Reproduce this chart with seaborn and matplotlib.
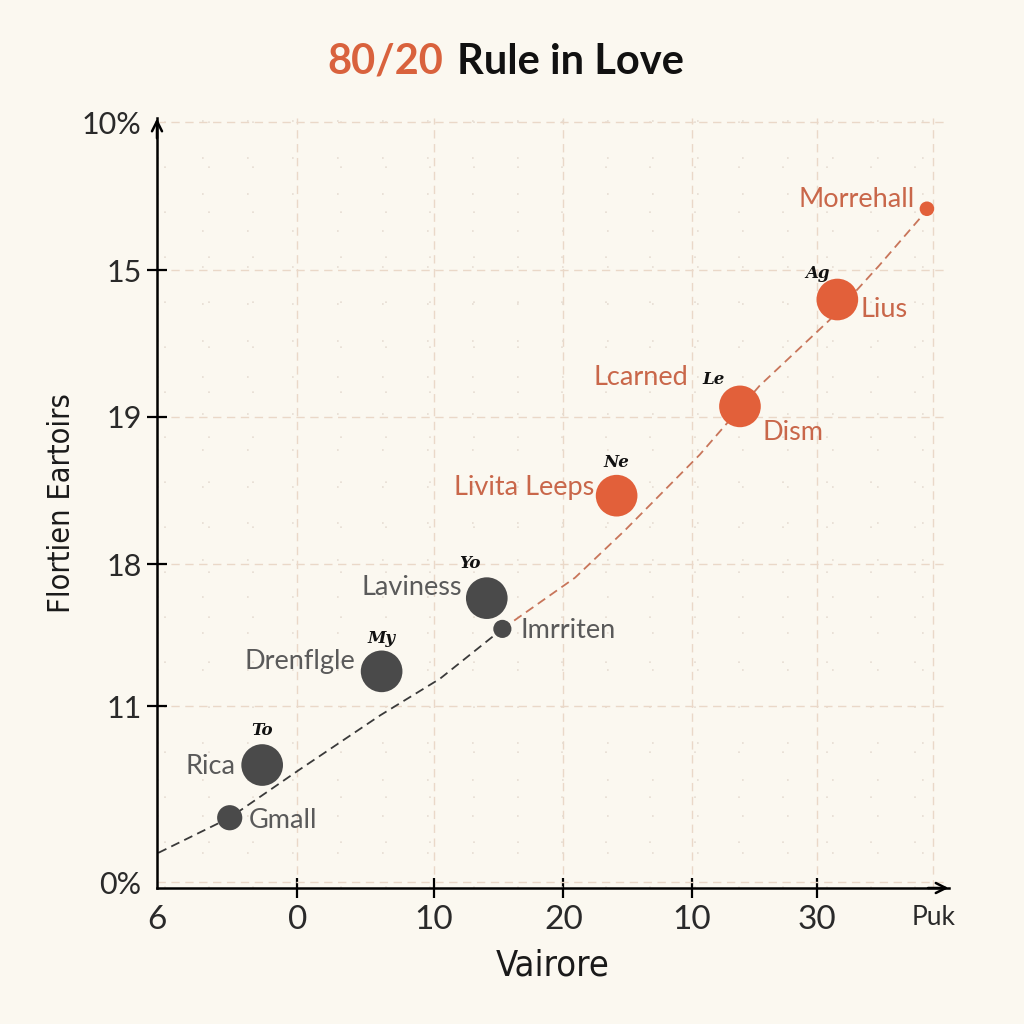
import numpy as np
import pandas as pd
import matplotlib
matplotlib.use("Agg")
import matplotlib.pyplot as plt
import seaborn as sns
from matplotlib.ticker import FixedLocator, MultipleLocator

# ---------------- data ----------------
names = ["Gmall", "Rica", "Drenflgle", "Laviness", "Imrriten",
         "Livita Leeps", "Dism", "Lius", "Morrehall"]
x_vals = [-5.2, -2.7, 6.5, 14.6, 15.8, 24.6, 34.1, 41.6, 48.5]
y_vals = [0.24, 0.60, 1.24, 1.74, 1.53, 2.44, 3.05, 3.78, 4.40]
weights = [3.3, 8, 8, 8, 2, 8, 8, 8, 1.5]
groups = ["Rest", "Rest", "Rest", "Rest", "Rest", "Top", "Top", "Top", "Top"]

trend_x_gray = [-10.7, -5.2, 0.2, 6.4, 11.0, 15.8]
trend_y_gray = [0.0, 0.24, 0.57, 0.94, 1.19, 1.53]
trend_x_orange = [15.8, 21.4, 25.2, 31.0, 35.6, 41.0, 44.8, 48.5]
trend_y_orange = [1.53, 1.88, 2.20, 2.72, 3.19, 3.64, 4.01, 4.39]

x_tick_pos = [-10.8, 0, 10.5, 20.5, 30.4, 40, 49.0]
x_tick_labels = ["6", "0", "10", "20", "10", "30", "Puk"]
y_tick_pos = [-0.2, 1.0, 1.97, 2.98, 3.98, 4.99]
y_tick_labels = ["0%", "11", "18", "19", "15", "10%"]

extra_labels = ["Lcarned"]          # second label attached to "Dism"
marks = ["To", "My", "Yo", "Ne", "Le", "Ag"]
mark_points = ["Rica", "Drenflgle", "Laviness", "Livita Leeps", "Dism", "Lius"]

title_left = "80/20"
title_right = "Rule in Love"
x_label = "Vairore"
y_label = "Flortien Eartoirs"

# ---------------- style ----------------
BG = "#fbf8f0"
GRAY = "#4a4a4a"
ORANGE = "#e2603a"
GRAY_TXT = "#5a5a5a"
ORANGE_TXT = "#c9674a"
GRID = "#ead8c8"

sns.set_theme(style="white")
plt.rcParams["font.family"] = ["Lato", "DejaVu Sans"]

fig = plt.figure(figsize=(10.24, 10.24), dpi=100, facecolor=BG)
ax = fig.add_axes([157 / 1024, 1 - 888 / 1024, (949 - 157) / 1024, (888 - 118) / 1024])
ax.set_facecolor(BG)

df = pd.DataFrame(dict(name=names, x=x_vals, y=y_vals, w=weights, group=groups))

# trend lines
sns.lineplot(x=trend_x_gray, y=trend_y_gray, sort=False, estimator=None,
             color="#3a3a3a", linestyle=(0, (5, 3)), linewidth=1.3, ax=ax, zorder=2)
sns.lineplot(x=trend_x_orange, y=trend_y_orange, sort=False, estimator=None,
             color="#c8755a", linestyle=(0, (5, 3)), linewidth=1.3, ax=ax, zorder=2)

# points
sns.scatterplot(data=df, x="x", y="y", hue="group", size="w",
                sizes=(110, 900), size_norm=(1.5, 8),
                palette={"Rest": GRAY, "Top": ORANGE},
                linewidth=0, legend=False, ax=ax, zorder=3)

ax.set_xlim(-10.8, 50.2)
ax.set_ylim(-0.24, 5.02)

# ticks
ax.xaxis.set_major_locator(FixedLocator(x_tick_pos))
ax.set_xticklabels(x_tick_labels)
ax.yaxis.set_major_locator(FixedLocator(y_tick_pos))
ax.set_yticklabels(y_tick_labels)
ax.tick_params(axis="x", direction="inout", length=14, width=1.6, color="black",
               labelsize=24, pad=5, labelcolor="#2a2a2a", bottom=True)
ax.tick_params(axis="y", direction="inout", length=14, width=1.6, color="black",
               labelsize=22, pad=4, labelcolor="#2a2a2a", left=True)
for lab in ax.get_xticklabels() + ax.get_yticklabels():
    lab.set_fontweight("normal")
    lab.set_family(["Lato", "DejaVu Sans"])
xt = ax.xaxis.get_major_ticks()
xt[0].tick1line.set_visible(False)
xt[-1].tick1line.set_visible(False)
xt[-1].label1.set_fontsize(19)
yt = ax.yaxis.get_major_ticks()
yt[0].tick1line.set_visible(False)
yt[-1].tick1line.set_visible(False)

# grids
ax.grid(True, which="major", color=GRID, linestyle=(0, (6, 4)), linewidth=1.0)
ax.xaxis.set_minor_locator(MultipleLocator(3.4))
ax.yaxis.set_minor_locator(MultipleLocator(0.25))
ax.grid(True, which="minor", color="#e6ddd2", linestyle=(0, (1, 26)), linewidth=1.2)
ax.tick_params(which="minor", length=0)
ax.set_axisbelow(True)

# spines + arrows
for s in ["top", "right"]:
    ax.spines[s].set_visible(False)
for s in ["left", "bottom"]:
    ax.spines[s].set_color("black")
    ax.spines[s].set_linewidth(1.8)
ax.annotate("", xy=(1.003, 0), xytext=(0.97, 0), xycoords="axes fraction",
            arrowprops=dict(arrowstyle="->", lw=1.8, color="black",
                            mutation_scale=18), annotation_clip=False)
ax.annotate("", xy=(0, 1.003), xytext=(0, 0.97), xycoords="axes fraction",
            arrowprops=dict(arrowstyle="->", lw=1.8, color="black",
                            mutation_scale=18), annotation_clip=False)

# point labels
layout = {
    "Gmall": (14, -2, "left"),
    "Rica": (-19, -1, "right"),
    "Drenflgle": (-19, 7, "right"),
    "Laviness": (-18, 8, "right"),
    "Imrriten": (13, -1, "left"),
    "Livita Leeps": (-16, 6, "right"),
    "Dism": (16.5, -19, "left"),
    "Lius": (17, -7, "left"),
    "Morrehall": (-9, 6.5, "right"),
}
for _, r in df.iterrows():
    dx, dy, ha = layout[r["name"]]
    col = GRAY_TXT if r["group"] == "Rest" else ORANGE_TXT
    ax.annotate(r["name"], (r["x"], r["y"]), xytext=(dx, dy), textcoords="offset points",
                ha=ha, va="center", fontsize=19.5, color=col, zorder=4)

dism = df[df["name"] == "Dism"].iloc[0]
ax.annotate(extra_labels[0], (dism["x"], dism["y"]), xytext=(-37, 21),
            textcoords="offset points", ha="right", va="center",
            fontsize=19.5, color=ORANGE_TXT, zorder=4)

mark_offsets = [(0, 25), (0, 24), (-12, 25), (0, 24), (-19, 19), (-14, 19)]
for m, p, (dx, dy) in zip(marks, mark_points, mark_offsets):
    r = df[df["name"] == p].iloc[0]
    ax.annotate(m, (r["x"], r["y"]), xytext=(dx, dy), textcoords="offset points",
                ha="center", va="center", fontsize=12, style="italic",
                fontweight="bold", color="#111111", zorder=4,
                family=["DejaVu Serif"])

# axis labels
ax.set_xlabel(x_label, fontsize=26, color="#1a1a1a",
              family=["DejaVu Sans"], fontstretch="condensed")
ax.set_ylabel(y_label, fontsize=22, color="#1a1a1a",
              family=["DejaVu Sans"], fontstretch="condensed")
ax.yaxis.set_label_coords((62 - 157) / (949 - 157), 0.5)
ax.xaxis.set_label_coords(0.5, -(965 - 888) / (888 - 118))
ax.xaxis.label.set_va("center")
ax.yaxis.label.set_va("center")

# title
fig.text(443 / 1024, 1 - 62 / 1024, title_left, ha="right", va="center",
         fontsize=30, fontweight="bold", color="#d9623d")
fig.text(457 / 1024, 1 - 62 / 1024, title_right, ha="left", va="center",
         fontsize=30, fontweight="bold", color="#111111")

fig.savefig("out.png", dpi=100, facecolor=BG)
